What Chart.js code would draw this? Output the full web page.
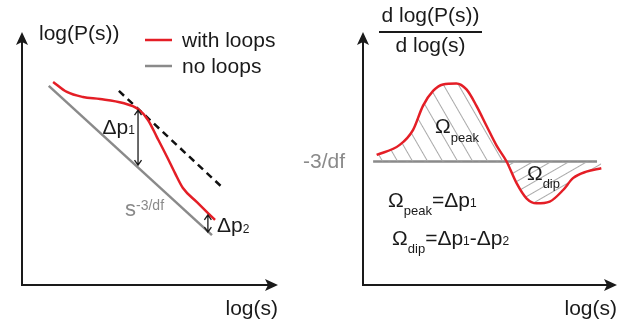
<!DOCTYPE html>
<html>
<head>
<meta charset="utf-8">
<script src="https://cdn.jsdelivr.net/npm/chart.js@4.4.0/dist/chart.umd.min.js"></script>
<style>
  html, body { margin: 0; padding: 0; background: #fff; }
  #wrap { position: relative; width: 634px; height: 325px; }
  #left { position: absolute; left: 0; top: 0; }
  #right { position: absolute; left: 290px; top: 0; }
</style>
</head>
<body>
<div id="wrap">
  <canvas id="left" width="290" height="325"></canvas>
  <canvas id="right" width="344" height="325"></canvas>
</div>
<script>
// left panel: log(P(s)) against log(s), arbitrary units 0..10
const withLoopsX = [1.22, 1.76, 2.39, 3.06, 3.96, 4.55, 4.94, 5.29, 5.69, 6.00, 6.31, 6.86, 7.57];
const withLoopsY = [8.06, 7.66, 7.46, 7.38, 7.22, 6.98, 6.55, 5.87, 5.08, 4.44, 3.85, 3.29, 2.58];
const noLoopsX = [1.05, 7.45];
const noLoopsY = [7.90, 1.98];
const tangentX = [3.80, 7.92];
const tangentY = [7.70, 3.81];
// double arrows: [x, upper y, lower y]
const deltaP1 = [4.55, 6.94, 4.76];
const deltaP2 = [7.29, 2.78, 2.10];

// right panel: slope d log(P)/d log(s), 0 = -3/df
const slopeX = [0.54, 1.45, 1.98, 2.37, 2.77, 3.16, 3.69, 4.09, 4.48, 4.88, 5.28, 5.67, 6.07, 6.46, 6.86, 7.38, 7.91, 8.30, 8.83, 9.42];
const slopeY = [0.26, 0.66, 1.26, 2.21, 2.80, 3.06, 3.10, 2.86, 2.22, 1.42, 0.63, 0.01, -0.86, -1.46, -1.66, -1.59, -1.13, -0.66, -0.40, -0.27];
const baseX = [0.40, 9.25];
const baseY = [0, 0];

const RED = '#e41e26';
const GRAY = '#8a8a8a';
const INK = '#1a1a1a';
const FONT = '"Liberation Sans", Arial, Helvetica, sans-serif';

const pts = (xs, ys) => xs.map((x, i) => ({ x, y: ys[i] }));

function runs(ctx, x, y, parts, align) {
    let w = 0;
    parts.forEach(p => {
        ctx.font = p.size + 'px ' + FONT;
        p.w = ctx.measureText(p.t).width;
        w += p.w;
    });
    let cx = align === 'right' ? x - w : align === 'center' ? x - w / 2 : x;
    ctx.textAlign = 'left';
    ctx.textBaseline = 'alphabetic';
    parts.forEach(p => {
        ctx.font = p.size + 'px ' + FONT;
        ctx.fillStyle = p.color || INK;
        ctx.fillText(p.t, cx, y + (p.dy || 0));
        cx += p.w;
    });
}

function axes(ctx, a) {
    ctx.save();
    ctx.strokeStyle = INK;
    ctx.fillStyle = INK;
    ctx.lineWidth = 2;
    ctx.beginPath();
    ctx.moveTo(a.left, a.top + 8);
    ctx.lineTo(a.left, a.bottom);
    ctx.lineTo(a.right - 8, a.bottom);
    ctx.stroke();
    // arrow heads
    ctx.beginPath();
    ctx.moveTo(a.left, a.top - 1);
    ctx.lineTo(a.left + 6, a.top + 12);
    ctx.lineTo(a.left, a.top + 9);
    ctx.lineTo(a.left - 6, a.top + 12);
    ctx.closePath();
    ctx.fill();
    ctx.beginPath();
    ctx.moveTo(a.right + 1, a.bottom);
    ctx.lineTo(a.right - 12, a.bottom - 6);
    ctx.lineTo(a.right - 9, a.bottom);
    ctx.lineTo(a.right - 12, a.bottom + 6);
    ctx.closePath();
    ctx.fill();
    ctx.restore();
}

function dblArrow(ctx, px, y1, y2) {
    ctx.save();
    ctx.strokeStyle = INK;
    ctx.lineWidth = 1.3;
    ctx.beginPath();
    ctx.moveTo(px, y1);
    ctx.lineTo(px, y2);
    ctx.moveTo(px - 3.5, y1 + 5);
    ctx.lineTo(px, y1);
    ctx.lineTo(px + 3.5, y1 + 5);
    ctx.moveTo(px - 3.5, y2 - 5);
    ctx.lineTo(px, y2);
    ctx.lineTo(px + 3.5, y2 - 5);
    ctx.stroke();
    ctx.restore();
}

function hatch(spacing, angle) {
    const c = document.createElement('canvas');
    c.width = 16;
    c.height = spacing;
    const g = c.getContext('2d');
    g.strokeStyle = '#a9a9a9';
    g.lineWidth = 1;
    g.beginPath();
    g.moveTo(0, 0.5);
    g.lineTo(16, 0.5);
    g.stroke();
    const p = g.createPattern(c, 'repeat');
    p.setTransform(new DOMMatrix().rotate(angle));
    return p;
}

const leftDecor = {
    id: 'leftDecor',
    afterDraw(chart) {
        const { ctx, chartArea: a, scales: { x, y } } = chart;
        axes(ctx, a);
        runs(ctx, a.left + 17, a.top + 6.5, [{ t: 'log(P(s))', size: 21 }]);
        // legend
        const rows = [[chart.data.datasets[0], a.top + 7], [chart.data.datasets[2], a.top + 33]];
        rows.forEach(([ds, ly]) => {
            ctx.save();
            ctx.strokeStyle = ds.borderColor;
            ctx.lineWidth = 2.5;
            ctx.beginPath();
            ctx.moveTo(a.left + 123, ly);
            ctx.lineTo(a.left + 150, ly);
            ctx.stroke();
            ctx.restore();
            runs(ctx, a.left + 160, ly + 6.5, [{ t: ds.label, size: 21 }]);
        });
        runs(ctx, a.right + 1, a.bottom + 30, [{ t: 'log(s)', size: 21 }], 'right');

        dblArrow(ctx, x.getPixelForValue(deltaP1[0]), y.getPixelForValue(deltaP1[1]), y.getPixelForValue(deltaP1[2]));
        dblArrow(ctx, x.getPixelForValue(deltaP2[0]), y.getPixelForValue(deltaP2[1]), y.getPixelForValue(deltaP2[2]));
        runs(ctx, x.getPixelForValue(4.43), y.getPixelForValue(6.0),
            [{ t: 'Δp', size: 21 }, { t: '1', size: 12, dy: 0.5 }], 'right');
        runs(ctx, x.getPixelForValue(7.65), y.getPixelForValue(2.1),
            [{ t: 'Δp', size: 21 }, { t: '2', size: 12, dy: 0.5 }]);
        runs(ctx, x.getPixelForValue(4.04), y.getPixelForValue(2.74),
            [{ t: 's', size: 22, color: GRAY }, { t: '-3/df', size: 14, dy: -6, color: GRAY }]);
    }
};

const rightDecor = {
    id: 'rightDecor',
    afterDraw(chart) {
        const { ctx, chartArea: a, scales: { x, y } } = chart;
        axes(ctx, a);
        // y axis title as a fraction
        const cx = a.left + 67.5;
        runs(ctx, cx, a.top - 11.5, [{ t: 'd log(P(s))', size: 21 }], 'center');
        ctx.save();
        ctx.strokeStyle = INK;
        ctx.lineWidth = 2;
        ctx.beginPath();
        ctx.moveTo(cx - 51.5, a.top - 1);
        ctx.lineTo(cx + 51.5, a.top - 1);
        ctx.stroke();
        ctx.restore();
        runs(ctx, cx, a.top + 19, [{ t: 'd log(s)', size: 21 }], 'center');

        runs(ctx, x.getPixelForValue(-0.71), y.getPixelForValue(0) + 6.5,
            [{ t: '-3/df', size: 21, color: GRAY }], 'right');
        runs(ctx, a.right + 1, a.bottom + 30, [{ t: 'log(s)', size: 21 }], 'right');

        runs(ctx, x.getPixelForValue(2.85), y.getPixelForValue(1.13),
            [{ t: 'Ω', size: 21 }, { t: 'peak', size: 13, dy: 8.5 }]);
        runs(ctx, x.getPixelForValue(6.48), y.getPixelForValue(-0.73),
            [{ t: 'Ω', size: 21 }, { t: 'dip', size: 13, dy: 8 }]);
        runs(ctx, x.getPixelForValue(0.99), y.getPixelForValue(-1.80),
            [{ t: 'Ω', size: 21 }, { t: 'peak', size: 13, dy: 8.5 }, { t: '=Δp', size: 21 }, { t: '1', size: 12, dy: 0.5 }]);
        runs(ctx, x.getPixelForValue(1.15), y.getPixelForValue(-3.31),
            [{ t: 'Ω', size: 21 }, { t: 'dip', size: 13, dy: 8.5 }, { t: '=Δp', size: 21 }, { t: '1', size: 12, dy: 0.5 },
             { t: '-Δp', size: 21 }, { t: '2', size: 12, dy: 0.5 }]);
    }
};

const common = {
    responsive: false,
    animation: false,
    devicePixelRatio: 1,
    elements: { point: { radius: 0 }, line: { borderCapStyle: 'butt' } },
    plugins: { legend: { display: false }, tooltip: { enabled: false } }
};

new Chart(document.getElementById('left'), {
    type: 'line',
    data: {
        datasets: [
            { label: 'with loops', data: pts(withLoopsX, withLoopsY), borderColor: RED, borderWidth: 2.5, cubicInterpolationMode: 'monotone' },
            { label: 'tangent', data: pts(tangentX, tangentY), borderColor: '#111', borderWidth: 2.5, borderDash: [7, 5] },
            { label: 'no loops', data: pts(noLoopsX, noLoopsY), borderColor: GRAY, borderWidth: 2.5 }
        ]
    },
    options: {
        ...common,
        layout: { padding: { left: 22, right: 13, top: 33, bottom: 40 } },
        scales: {
            x: { type: 'linear', min: 0, max: 10, display: false },
            y: { type: 'linear', min: 0, max: 10, display: false }
        }
    },
    plugins: [leftDecor]
});

new Chart(document.getElementById('right'), {
    type: 'line',
    data: {
        datasets: [
            {
                label: 'slope', data: pts(slopeX, slopeY), borderColor: RED, borderWidth: 2.5,
                cubicInterpolationMode: 'monotone',
                fill: { target: { value: 0 }, above: hatch(13, 60), below: hatch(9, -30) }
            },
            { label: '-3/df', data: pts(baseX, baseY), borderColor: GRAY, borderWidth: 2.5 }
        ]
    },
    options: {
        ...common,
        layout: { padding: { left: 73, right: 18, top: 33, bottom: 40 } },
        scales: {
            x: { type: 'linear', min: 0, max: 10, display: false },
            y: { type: 'linear', min: -4.9, max: 5.1, display: false }
        }
    },
    plugins: [rightDecor]
});
</script>
</body>
</html>
